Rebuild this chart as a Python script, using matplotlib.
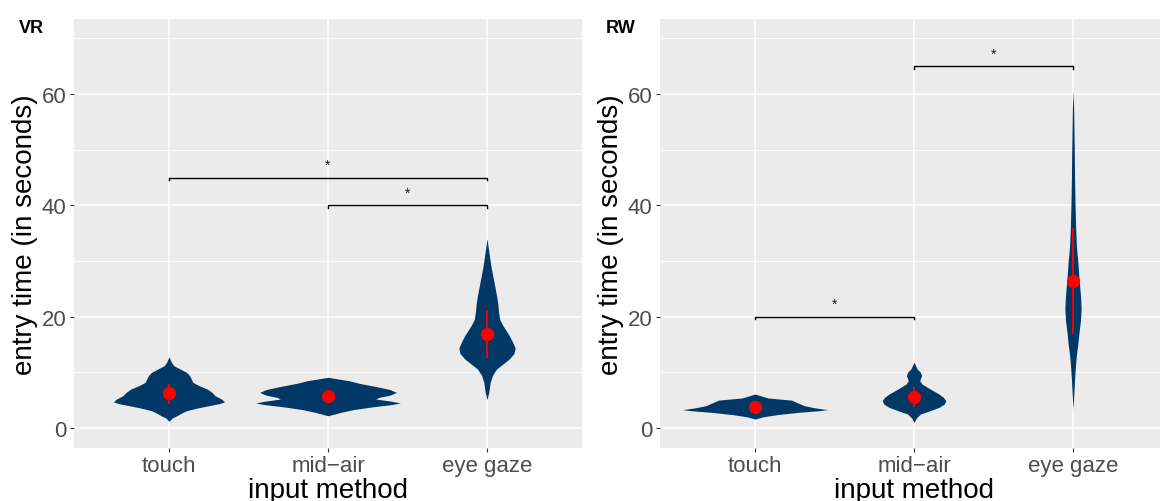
import numpy as np
import matplotlib
matplotlib.use("Agg")
import matplotlib.pyplot as plt
import matplotlib as mpl

mpl.rcParams['font.family'] = ['Liberation Sans', 'DejaVu Sans']

# categories
methods = ["touch", "mid\u2212air", "eye gaze"]

# violin outlines: y (seconds) and half width (x units)
vr_touch_y = [1.2, 1.8, 2.2, 2.7, 3.1, 3.6, 4.0, 4.4, 4.7, 5.2, 5.8, 6.4, 7.0, 7.6, 8.2, 8.8, 9.4, 10.0, 10.6, 11.2, 11.8, 12.8]
vr_touch_w = [0.0, 0.02, 0.05, 0.08, 0.11, 0.18, 0.25, 0.32, 0.35, 0.33, 0.29, 0.27, 0.24, 0.19, 0.15, 0.14, 0.13, 0.11, 0.07, 0.03, 0.015, 0.0]
vr_mid_y = [2.2, 2.8, 3.3, 3.8, 4.2, 4.5, 4.8, 5.2, 5.5, 5.9, 6.4, 6.9, 7.4, 8.0, 8.5, 9.1]
vr_mid_w = [0.0, 0.08, 0.16, 0.28, 0.40, 0.455, 0.40, 0.30, 0.32, 0.39, 0.43, 0.39, 0.31, 0.20, 0.13, 0.0]
vr_eye_y = [5.1, 6.5, 8.2, 9.5, 10.6, 11.5, 12.4, 13.4, 14.4, 15.5, 16.6, 17.5, 18.4, 19.5, 20.8, 22.3, 23.8, 25.3, 26.8, 29.0, 31.0, 34.0]
vr_eye_w = [0.0, 0.012, 0.02, 0.035, 0.06, 0.10, 0.14, 0.17, 0.177, 0.16, 0.14, 0.12, 0.10, 0.08, 0.073, 0.068, 0.06, 0.05, 0.04, 0.025, 0.015, 0.0]

rw_touch_y = [1.6, 2.0, 2.4, 2.8, 3.1, 3.3, 3.6, 4.0, 4.5, 5.0, 5.4, 6.1]
rw_touch_w = [0.0, 0.05, 0.14, 0.27, 0.40, 0.456, 0.38, 0.31, 0.27, 0.23, 0.08, 0.0]
rw_mid_y = [1.0, 1.8, 2.5, 3.1, 3.7, 4.3, 4.9, 5.5, 6.1, 6.7, 7.3, 7.9, 8.5, 9.0, 9.4, 10.0, 10.6, 11.8]
rw_mid_w = [0.0, 0.015, 0.04, 0.10, 0.157, 0.19, 0.20, 0.185, 0.157, 0.12, 0.084, 0.05, 0.036, 0.042, 0.048, 0.04, 0.02, 0.0]
rw_eye_y = [3.4, 6.0, 8.8, 11.0, 13.0, 15.0, 17.2, 19.3, 21.4, 23.5, 25.5, 27.5, 29.7, 32.5, 35.7, 40.0, 44.7, 50.0, 53.7, 57.5, 60.5]
rw_eye_w = [0.0, 0.005, 0.01, 0.015, 0.021, 0.03, 0.038, 0.047, 0.051, 0.048, 0.042, 0.036, 0.031, 0.022, 0.017, 0.013, 0.01, 0.008, 0.006, 0.004, 0.0]

# means and error bars
vr_mean = [6.2, 5.7, 16.8]
vr_lo = [4.3, 4.5, 12.5]
vr_hi = [7.9, 6.7, 21.2]
rw_mean = [3.7, 5.5, 26.5]
rw_lo = [3.2, 3.7, 16.9]
rw_hi = [4.3, 7.3, 35.9]

# significance brackets: (from, to, height)
vr_sig = [(1, 3, 45), (2, 3, 40)]
rw_sig = [(1, 2, 20), (2, 3, 65)]

VIOLIN = "#023866"
W, H = 1160, 502


def draw_panel(ax, shapes, mean, lo, hi, sig):
    ax.set_facecolor("#EBEBEB")
    for s in ax.spines.values():
        s.set_visible(False)
    ax.set_xlim(0.4, 3.6)
    ax.set_ylim(-3.6, 73.5)
    ax.set_yticks([0, 20, 40, 60])
    ax.set_yticks([10, 30, 50, 70], minor=True)
    ax.set_xticks([1, 2, 3])
    ax.set_xticklabels(methods)
    ax.grid(which="major", color="white", lw=1.1)
    ax.grid(which="minor", axis="y", color="white", lw=0.55)
    ax.set_axisbelow(True)
    ax.tick_params(which="major", length=3, width=0.8, color="#333333",
                   labelcolor="#4D4D4D", labelsize=16, pad=2)
    ax.tick_params(which="minor", length=0)

    for i, (ys, ws) in enumerate(shapes):
        x = i + 1
        ys = np.array(ys)
        ws = np.array(ws)
        ax.fill_betweenx(ys, x - ws, x + ws, color=VIOLIN, lw=0, zorder=2)

    xs = np.arange(1, 4)
    ax.vlines(xs, lo, hi, color="red", lw=1.3, zorder=3)
    ax.plot(xs, mean, "o", color="red", ms=8.5, zorder=4)

    for a, b, h in sig:
        ax.plot([a, a, b, b], [h - 0.5, h, h, h - 0.5], color="black", lw=1.0, zorder=3)
        ax.text((a + b) / 2, h + 1.0, "*", ha="center", va="bottom", fontsize=10, color="#1A1A1A")

    ax.set_ylabel("entry time (in seconds)", fontsize=20, labelpad=3)


fig = plt.figure(figsize=(W / 100, H / 100), dpi=100)

ax1 = fig.add_axes([73.6 / W, 1 - 449 / H, 508.8 / W, 429 / H])
draw_panel(ax1, [(vr_touch_y, vr_touch_w), (vr_mid_y, vr_mid_w), (vr_eye_y, vr_eye_w)],
           vr_mean, vr_lo, vr_hi, vr_sig)

ax2 = fig.add_axes([659.6 / W, 1 - 449 / H, 508.8 / W, 429 / H])
draw_panel(ax2, [(rw_touch_y, rw_touch_w), (rw_mid_y, rw_mid_w), (rw_eye_y, rw_eye_w)],
           rw_mean, rw_lo, rw_hi, rw_sig)

fig.text(328 / W, 1 - 498 / H, "input method", ha="center", va="baseline", fontsize=20)
fig.text(914 / W, 1 - 498 / H, "input method", ha="center", va="baseline", fontsize=20)

fig.text(19 / W, 1 - 33 / H, "VR", fontsize=13, fontweight="bold", va="baseline")
fig.text(606 / W, 1 - 33 / H, "RW", fontsize=13, fontweight="bold", va="baseline")

fig.savefig("out.png", dpi=100)
